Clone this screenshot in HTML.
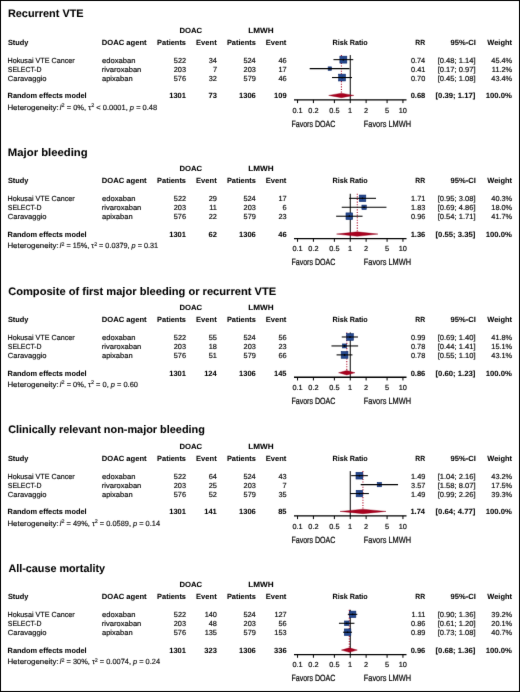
<!DOCTYPE html>
<html><head><meta charset="utf-8"><style>
html,body{margin:0;padding:0;background:#fff;}
body{width:520px;height:692px;overflow:hidden;position:relative;}
svg{position:absolute;left:0;top:0;display:block;font-family:"Liberation Sans", sans-serif;will-change:transform;}
</style></head><body>
<svg width="520" height="692" viewBox="0 0 520 692" text-rendering="geometricPrecision">
<defs><filter id="bl" x="0" y="0" width="520" height="692" filterUnits="userSpaceOnUse" color-interpolation-filters="sRGB"><feConvolveMatrix order="3" kernelMatrix="0.0052 0.0619 0.0052 0.0619 0.7314 0.0619 0.0052 0.0619 0.0052" edgeMode="duplicate" preserveAlpha="true"/></filter></defs><g filter="url(#bl)"><rect width="520" height="692" fill="#fff"/>
<g transform="translate(0,0.00)">
<text x="7.92" y="17.30" font-size="10.9" font-weight="bold" fill="#000" stroke="#000" stroke-width="0.06">Recurrent VTE</text>
<text x="179.48" y="32.50" font-size="7.5" font-weight="bold" textLength="22.73" lengthAdjust="spacingAndGlyphs" fill="#000" stroke="#000" stroke-width="0.06">DOAC</text>
<text x="248.23" y="32.50" font-size="7.5" font-weight="bold" textLength="25.34" lengthAdjust="spacingAndGlyphs" fill="#000" stroke="#000" stroke-width="0.06">LMWH</text>
<text x="7.89" y="44.60" font-size="7.5" font-weight="bold" textLength="20.45" lengthAdjust="spacingAndGlyphs" fill="#000" stroke="#000" stroke-width="0.06">Study</text>
<text x="101.79" y="44.60" font-size="7.5" font-weight="bold" textLength="44.85" lengthAdjust="spacingAndGlyphs" fill="#000" stroke="#000" stroke-width="0.06">DOAC agent</text>
<text x="157.10" y="44.60" font-size="7.5" font-weight="bold" textLength="28.90" lengthAdjust="spacingAndGlyphs" fill="#000" stroke="#000" stroke-width="0.06">Patients</text>
<text x="196.09" y="44.60" font-size="7.5" font-weight="bold" textLength="20.60" lengthAdjust="spacingAndGlyphs" fill="#000" stroke="#000" stroke-width="0.06">Event</text>
<text x="226.90" y="44.60" font-size="7.5" font-weight="bold" textLength="28.90" lengthAdjust="spacingAndGlyphs" fill="#000" stroke="#000" stroke-width="0.06">Patients</text>
<text x="265.79" y="44.60" font-size="7.5" font-weight="bold" textLength="20.60" lengthAdjust="spacingAndGlyphs" fill="#000" stroke="#000" stroke-width="0.06">Event</text>
<text x="332.52" y="44.60" font-size="7.5" font-weight="bold" textLength="35.27" lengthAdjust="spacingAndGlyphs" fill="#000" stroke="#000" stroke-width="0.06">Risk Ratio</text>
<text x="415.29" y="44.60" font-size="7.5" font-weight="bold" textLength="9.85" lengthAdjust="spacingAndGlyphs" fill="#000" stroke="#000" stroke-width="0.06">RR</text>
<text x="450.64" y="44.60" font-size="7.5" font-weight="bold" textLength="25.26" lengthAdjust="spacingAndGlyphs" fill="#000" stroke="#000" stroke-width="0.06">95%-CI</text>
<text x="487.29" y="44.60" font-size="7.5" font-weight="bold" textLength="24.70" lengthAdjust="spacingAndGlyphs" fill="#000" stroke="#000" stroke-width="0.06">Weight</text>
<text x="7.51" y="62.65" font-size="7.35" textLength="67.21" lengthAdjust="spacingAndGlyphs" stroke="#111" stroke-width="0.16">Hokusai VTE Cancer</text>
<text x="101.98" y="62.65" font-size="7.35" textLength="33.52" lengthAdjust="spacingAndGlyphs" stroke="#111" stroke-width="0.16">edoxaban</text>
<text x="173.81" y="62.65" font-size="7.35" stroke="#111" stroke-width="0.16">522</text>
<text x="208.64" y="62.65" font-size="7.35" stroke="#111" stroke-width="0.16">34</text>
<text x="243.45" y="62.65" font-size="7.35" stroke="#111" stroke-width="0.16">524</text>
<text x="278.45" y="62.65" font-size="7.35" stroke="#111" stroke-width="0.16">46</text>
<text x="410.91" y="62.65" font-size="7.35" stroke="#111" stroke-width="0.16">0.74</text>
<text x="437.66" y="62.65" font-size="7.35" textLength="37.87" lengthAdjust="spacingAndGlyphs" stroke="#111" stroke-width="0.16">[0.48; 1.14]</text>
<text x="491.32" y="62.65" font-size="7.35" stroke="#111" stroke-width="0.16">45.4%</text>
<text x="7.79" y="71.60" font-size="7.35" textLength="33.84" lengthAdjust="spacingAndGlyphs" stroke="#111" stroke-width="0.16">SELECT-D</text>
<text x="101.80" y="71.60" font-size="7.35" textLength="39.49" lengthAdjust="spacingAndGlyphs" stroke="#111" stroke-width="0.16">rivaroxaban</text>
<text x="173.76" y="71.60" font-size="7.35" stroke="#111" stroke-width="0.16">203</text>
<text x="212.88" y="71.60" font-size="7.35" stroke="#111" stroke-width="0.16">7</text>
<text x="243.56" y="71.60" font-size="7.35" stroke="#111" stroke-width="0.16">203</text>
<text x="278.49" y="71.60" font-size="7.35" stroke="#111" stroke-width="0.16">17</text>
<text x="411.05" y="71.60" font-size="7.35" stroke="#111" stroke-width="0.16">0.41</text>
<text x="437.66" y="71.60" font-size="7.35" textLength="37.87" lengthAdjust="spacingAndGlyphs" stroke="#111" stroke-width="0.16">[0.17; 0.97]</text>
<text x="491.86" y="71.60" font-size="7.35" stroke="#111" stroke-width="0.16">11.2%</text>
<text x="7.71" y="80.55" font-size="7.35" textLength="38.81" lengthAdjust="spacingAndGlyphs" stroke="#111" stroke-width="0.16">Caravaggio</text>
<text x="101.98" y="80.55" font-size="7.35" textLength="30.61" lengthAdjust="spacingAndGlyphs" stroke="#111" stroke-width="0.16">apixaban</text>
<text x="173.76" y="80.55" font-size="7.35" stroke="#111" stroke-width="0.16">576</text>
<text x="208.79" y="80.55" font-size="7.35" stroke="#111" stroke-width="0.16">32</text>
<text x="243.59" y="80.55" font-size="7.35" stroke="#111" stroke-width="0.16">579</text>
<text x="278.45" y="80.55" font-size="7.35" stroke="#111" stroke-width="0.16">46</text>
<text x="410.98" y="80.55" font-size="7.35" stroke="#111" stroke-width="0.16">0.70</text>
<text x="437.66" y="80.55" font-size="7.35" textLength="37.87" lengthAdjust="spacingAndGlyphs" stroke="#111" stroke-width="0.16">[0.45; 1.08]</text>
<text x="491.32" y="80.55" font-size="7.35" stroke="#111" stroke-width="0.16">43.4%</text>
<text x="7.61" y="98.40" font-size="7.5" font-weight="bold" textLength="78.92" lengthAdjust="spacingAndGlyphs" fill="#000" stroke="#000" stroke-width="0.06">Random effects model</text>
<text x="169.22" y="98.40" font-size="7.5" font-weight="bold" fill="#000" stroke="#000" stroke-width="0.06">1301</text>
<text x="208.53" y="98.40" font-size="7.5" font-weight="bold" fill="#000" stroke="#000" stroke-width="0.06">73</text>
<text x="239.09" y="98.40" font-size="7.5" font-weight="bold" fill="#000" stroke="#000" stroke-width="0.06">1306</text>
<text x="274.07" y="98.40" font-size="7.5" font-weight="bold" fill="#000" stroke="#000" stroke-width="0.06">109</text>
<text x="410.63" y="98.40" font-size="7.5" font-weight="bold" fill="#000" stroke="#000" stroke-width="0.06">0.68</text>
<text x="435.57" y="98.40" font-size="7.5" font-weight="bold" textLength="39.77" lengthAdjust="spacingAndGlyphs" fill="#000" stroke="#000" stroke-width="0.06">[0.39; 1.17]</text>
<text x="485.71" y="98.40" font-size="7.5" font-weight="bold" textLength="26.19" lengthAdjust="spacingAndGlyphs" fill="#000" stroke="#000" stroke-width="0.06">100.0%</text>
<text x="7.45" y="109.80" font-size="7.5" textLength="51.16" lengthAdjust="spacingAndGlyphs" stroke="#111" stroke-width="0.16">Heterogeneity:</text>
<text x="59.51" y="109.80" font-size="7.5" fill="#111" stroke="#111" stroke-width="0.16" textLength="97.72" lengthAdjust="spacingAndGlyphs"><tspan font-style="italic">I</tspan><tspan font-size="5.40" dy="-2.7">2</tspan><tspan dy="2.7"> = 0%, τ</tspan><tspan font-size="5.40" dy="-2.7">2</tspan><tspan dy="2.7"> &lt; 0.0001, </tspan><tspan font-style="italic">p</tspan><tspan> = 0.48</tspan></text>
<line x1="350.25" y1="55.10" x2="350.25" y2="99.90" stroke="#000" stroke-width="1"/>
<line x1="341.42" y1="55.10" x2="341.42" y2="93.15" stroke="#b0102c" stroke-width="1.1" stroke-dasharray="1.1 1.5"/>
<rect x="339.89" y="56.18" width="6.94" height="6.94" fill="#27498f" stroke="#0c2a6c" stroke-width="0.6"/>
<rect x="328.12" y="66.88" width="3.45" height="3.45" fill="#27498f" stroke="#0c2a6c" stroke-width="0.6"/>
<rect x="338.69" y="74.16" width="6.79" height="6.79" fill="#27498f" stroke="#0c2a6c" stroke-width="0.6"/>
<line x1="333.45" y1="59.65" x2="353.25" y2="59.65" stroke="#000" stroke-width="1.05"/>
<circle cx="343.36" cy="59.65" r="0.85" fill="#000"/>
<line x1="309.69" y1="68.60" x2="349.55" y2="68.60" stroke="#000" stroke-width="1.05"/>
<circle cx="329.84" cy="68.60" r="0.85" fill="#000"/>
<line x1="331.97" y1="77.55" x2="352.01" y2="77.55" stroke="#000" stroke-width="1.05"/>
<circle cx="342.09" cy="77.55" r="0.85" fill="#000"/>
<polygon points="328.70,95.40 341.42,93.15 353.84,95.40 341.42,97.65" fill="#a8001e" stroke="#8c0019" stroke-width="0.4"/>
<line x1="294.00" y1="99.90" x2="406.50" y2="99.90" stroke="#000" stroke-width="1.3"/>
<line x1="297.55" y1="99.90" x2="297.55" y2="103.10" stroke="#000" stroke-width="1"/>
<text x="292.47" y="112.70" font-size="7.35" stroke="#111" stroke-width="0.16">0.1</text>
<line x1="313.41" y1="99.90" x2="313.41" y2="103.10" stroke="#000" stroke-width="1"/>
<text x="308.35" y="112.70" font-size="7.35" stroke="#111" stroke-width="0.16">0.2</text>
<line x1="334.39" y1="99.90" x2="334.39" y2="103.10" stroke="#000" stroke-width="1"/>
<text x="329.29" y="112.70" font-size="7.35" stroke="#111" stroke-width="0.16">0.5</text>
<line x1="350.25" y1="99.90" x2="350.25" y2="103.10" stroke="#000" stroke-width="1"/>
<text x="348.10" y="112.70" font-size="7.35" stroke="#111" stroke-width="0.16">1</text>
<line x1="366.11" y1="99.90" x2="366.11" y2="103.10" stroke="#000" stroke-width="1"/>
<text x="364.07" y="112.70" font-size="7.35" stroke="#111" stroke-width="0.16">2</text>
<line x1="387.09" y1="99.90" x2="387.09" y2="103.10" stroke="#000" stroke-width="1"/>
<text x="385.05" y="112.70" font-size="7.35" stroke="#111" stroke-width="0.16">5</text>
<line x1="402.95" y1="99.90" x2="402.95" y2="103.10" stroke="#000" stroke-width="1"/>
<text x="398.73" y="112.70" font-size="7.35" stroke="#111" stroke-width="0.16">10</text>
<text x="291.42" y="126.60" font-size="9.0" textLength="43.95" lengthAdjust="spacingAndGlyphs" stroke="#111" stroke-width="0.22">Favors DOAC</text>
<text x="363.79" y="126.60" font-size="9.0" textLength="47.21" lengthAdjust="spacingAndGlyphs" stroke="#111" stroke-width="0.22">Favors LMWH</text>
</g>
<g transform="translate(0,138.67)">
<text x="7.89" y="17.30" font-size="10.9" font-weight="bold" textLength="79.82" lengthAdjust="spacingAndGlyphs" fill="#000" stroke="#000" stroke-width="0.06">Major bleeding</text>
<text x="179.48" y="32.50" font-size="7.5" font-weight="bold" textLength="22.73" lengthAdjust="spacingAndGlyphs" fill="#000" stroke="#000" stroke-width="0.06">DOAC</text>
<text x="248.23" y="32.50" font-size="7.5" font-weight="bold" textLength="25.34" lengthAdjust="spacingAndGlyphs" fill="#000" stroke="#000" stroke-width="0.06">LMWH</text>
<text x="7.89" y="44.60" font-size="7.5" font-weight="bold" textLength="20.45" lengthAdjust="spacingAndGlyphs" fill="#000" stroke="#000" stroke-width="0.06">Study</text>
<text x="101.79" y="44.60" font-size="7.5" font-weight="bold" textLength="44.85" lengthAdjust="spacingAndGlyphs" fill="#000" stroke="#000" stroke-width="0.06">DOAC agent</text>
<text x="157.10" y="44.60" font-size="7.5" font-weight="bold" textLength="28.90" lengthAdjust="spacingAndGlyphs" fill="#000" stroke="#000" stroke-width="0.06">Patients</text>
<text x="196.09" y="44.60" font-size="7.5" font-weight="bold" textLength="20.60" lengthAdjust="spacingAndGlyphs" fill="#000" stroke="#000" stroke-width="0.06">Event</text>
<text x="226.90" y="44.60" font-size="7.5" font-weight="bold" textLength="28.90" lengthAdjust="spacingAndGlyphs" fill="#000" stroke="#000" stroke-width="0.06">Patients</text>
<text x="265.79" y="44.60" font-size="7.5" font-weight="bold" textLength="20.60" lengthAdjust="spacingAndGlyphs" fill="#000" stroke="#000" stroke-width="0.06">Event</text>
<text x="332.52" y="44.60" font-size="7.5" font-weight="bold" textLength="35.27" lengthAdjust="spacingAndGlyphs" fill="#000" stroke="#000" stroke-width="0.06">Risk Ratio</text>
<text x="415.29" y="44.60" font-size="7.5" font-weight="bold" textLength="9.85" lengthAdjust="spacingAndGlyphs" fill="#000" stroke="#000" stroke-width="0.06">RR</text>
<text x="450.64" y="44.60" font-size="7.5" font-weight="bold" textLength="25.26" lengthAdjust="spacingAndGlyphs" fill="#000" stroke="#000" stroke-width="0.06">95%-CI</text>
<text x="487.29" y="44.60" font-size="7.5" font-weight="bold" textLength="24.70" lengthAdjust="spacingAndGlyphs" fill="#000" stroke="#000" stroke-width="0.06">Weight</text>
<text x="7.51" y="62.65" font-size="7.35" textLength="67.21" lengthAdjust="spacingAndGlyphs" stroke="#111" stroke-width="0.16">Hokusai VTE Cancer</text>
<text x="101.98" y="62.65" font-size="7.35" textLength="33.52" lengthAdjust="spacingAndGlyphs" stroke="#111" stroke-width="0.16">edoxaban</text>
<text x="173.81" y="62.65" font-size="7.35" stroke="#111" stroke-width="0.16">522</text>
<text x="208.77" y="62.65" font-size="7.35" stroke="#111" stroke-width="0.16">29</text>
<text x="243.45" y="62.65" font-size="7.35" stroke="#111" stroke-width="0.16">524</text>
<text x="278.49" y="62.65" font-size="7.35" stroke="#111" stroke-width="0.16">17</text>
<text x="411.05" y="62.65" font-size="7.35" stroke="#111" stroke-width="0.16">1.71</text>
<text x="437.66" y="62.65" font-size="7.35" textLength="37.87" lengthAdjust="spacingAndGlyphs" stroke="#111" stroke-width="0.16">[0.95; 3.08]</text>
<text x="491.32" y="62.65" font-size="7.35" stroke="#111" stroke-width="0.16">40.3%</text>
<text x="7.79" y="71.60" font-size="7.35" textLength="33.84" lengthAdjust="spacingAndGlyphs" stroke="#111" stroke-width="0.16">SELECT-D</text>
<text x="101.80" y="71.60" font-size="7.35" textLength="39.49" lengthAdjust="spacingAndGlyphs" stroke="#111" stroke-width="0.16">rivaroxaban</text>
<text x="173.76" y="71.60" font-size="7.35" stroke="#111" stroke-width="0.16">203</text>
<text x="209.32" y="71.60" font-size="7.35" stroke="#111" stroke-width="0.16">11</text>
<text x="243.56" y="71.60" font-size="7.35" stroke="#111" stroke-width="0.16">203</text>
<text x="282.54" y="71.60" font-size="7.35" stroke="#111" stroke-width="0.16">6</text>
<text x="411.02" y="71.60" font-size="7.35" stroke="#111" stroke-width="0.16">1.83</text>
<text x="437.66" y="71.60" font-size="7.35" textLength="37.87" lengthAdjust="spacingAndGlyphs" stroke="#111" stroke-width="0.16">[0.69; 4.86]</text>
<text x="491.32" y="71.60" font-size="7.35" stroke="#111" stroke-width="0.16">18.0%</text>
<text x="7.71" y="80.55" font-size="7.35" textLength="38.81" lengthAdjust="spacingAndGlyphs" stroke="#111" stroke-width="0.16">Caravaggio</text>
<text x="101.98" y="80.55" font-size="7.35" textLength="30.61" lengthAdjust="spacingAndGlyphs" stroke="#111" stroke-width="0.16">apixaban</text>
<text x="173.76" y="80.55" font-size="7.35" stroke="#111" stroke-width="0.16">576</text>
<text x="208.79" y="80.55" font-size="7.35" stroke="#111" stroke-width="0.16">22</text>
<text x="243.59" y="80.55" font-size="7.35" stroke="#111" stroke-width="0.16">579</text>
<text x="278.45" y="80.55" font-size="7.35" stroke="#111" stroke-width="0.16">23</text>
<text x="411.02" y="80.55" font-size="7.35" stroke="#111" stroke-width="0.16">0.96</text>
<text x="437.66" y="80.55" font-size="7.35" textLength="37.87" lengthAdjust="spacingAndGlyphs" stroke="#111" stroke-width="0.16">[0.54; 1.71]</text>
<text x="491.32" y="80.55" font-size="7.35" stroke="#111" stroke-width="0.16">41.7%</text>
<text x="7.61" y="98.40" font-size="7.5" font-weight="bold" textLength="78.92" lengthAdjust="spacingAndGlyphs" fill="#000" stroke="#000" stroke-width="0.06">Random effects model</text>
<text x="169.22" y="98.40" font-size="7.5" font-weight="bold" fill="#000" stroke="#000" stroke-width="0.06">1301</text>
<text x="208.56" y="98.40" font-size="7.5" font-weight="bold" fill="#000" stroke="#000" stroke-width="0.06">62</text>
<text x="239.09" y="98.40" font-size="7.5" font-weight="bold" fill="#000" stroke="#000" stroke-width="0.06">1306</text>
<text x="278.23" y="98.40" font-size="7.5" font-weight="bold" fill="#000" stroke="#000" stroke-width="0.06">46</text>
<text x="410.67" y="98.40" font-size="7.5" font-weight="bold" fill="#000" stroke="#000" stroke-width="0.06">1.36</text>
<text x="435.57" y="98.40" font-size="7.5" font-weight="bold" textLength="39.77" lengthAdjust="spacingAndGlyphs" fill="#000" stroke="#000" stroke-width="0.06">[0.55; 3.35]</text>
<text x="485.71" y="98.40" font-size="7.5" font-weight="bold" textLength="26.19" lengthAdjust="spacingAndGlyphs" fill="#000" stroke="#000" stroke-width="0.06">100.0%</text>
<text x="7.45" y="109.80" font-size="7.5" textLength="51.16" lengthAdjust="spacingAndGlyphs" stroke="#111" stroke-width="0.16">Heterogeneity:</text>
<text x="59.52" y="109.80" font-size="7.5" fill="#111" stroke="#111" stroke-width="0.16" textLength="98.53" lengthAdjust="spacingAndGlyphs"><tspan font-style="italic">I</tspan><tspan font-size="5.40" dy="-2.7">2</tspan><tspan dy="2.7"> = 15%, τ</tspan><tspan font-size="5.40" dy="-2.7">2</tspan><tspan dy="2.7"> = 0.0379, </tspan><tspan font-style="italic">p</tspan><tspan> = 0.31</tspan></text>
<line x1="350.25" y1="55.10" x2="350.25" y2="99.90" stroke="#000" stroke-width="1"/>
<line x1="357.29" y1="55.10" x2="357.29" y2="93.15" stroke="#b0102c" stroke-width="1.1" stroke-dasharray="1.1 1.5"/>
<rect x="359.26" y="56.38" width="6.54" height="6.54" fill="#27498f" stroke="#0c2a6c" stroke-width="0.6"/>
<rect x="361.90" y="66.42" width="4.37" height="4.37" fill="#27498f" stroke="#0c2a6c" stroke-width="0.6"/>
<rect x="345.99" y="74.22" width="6.65" height="6.65" fill="#27498f" stroke="#0c2a6c" stroke-width="0.6"/>
<line x1="349.08" y1="59.65" x2="376.00" y2="59.65" stroke="#000" stroke-width="1.05"/>
<circle cx="362.53" cy="59.65" r="0.85" fill="#000"/>
<line x1="341.76" y1="68.60" x2="386.44" y2="68.60" stroke="#000" stroke-width="1.05"/>
<circle cx="364.08" cy="68.60" r="0.85" fill="#000"/>
<line x1="336.15" y1="77.55" x2="362.53" y2="77.55" stroke="#000" stroke-width="1.05"/>
<circle cx="349.32" cy="77.55" r="0.85" fill="#000"/>
<polygon points="336.57,95.40 357.29,93.15 377.92,95.40 357.29,97.65" fill="#a8001e" stroke="#8c0019" stroke-width="0.4"/>
<line x1="294.00" y1="99.90" x2="406.50" y2="99.90" stroke="#000" stroke-width="1.3"/>
<line x1="297.55" y1="99.90" x2="297.55" y2="103.10" stroke="#000" stroke-width="1"/>
<text x="292.47" y="112.70" font-size="7.35" stroke="#111" stroke-width="0.16">0.1</text>
<line x1="313.41" y1="99.90" x2="313.41" y2="103.10" stroke="#000" stroke-width="1"/>
<text x="308.35" y="112.70" font-size="7.35" stroke="#111" stroke-width="0.16">0.2</text>
<line x1="334.39" y1="99.90" x2="334.39" y2="103.10" stroke="#000" stroke-width="1"/>
<text x="329.29" y="112.70" font-size="7.35" stroke="#111" stroke-width="0.16">0.5</text>
<line x1="350.25" y1="99.90" x2="350.25" y2="103.10" stroke="#000" stroke-width="1"/>
<text x="348.10" y="112.70" font-size="7.35" stroke="#111" stroke-width="0.16">1</text>
<line x1="366.11" y1="99.90" x2="366.11" y2="103.10" stroke="#000" stroke-width="1"/>
<text x="364.07" y="112.70" font-size="7.35" stroke="#111" stroke-width="0.16">2</text>
<line x1="387.09" y1="99.90" x2="387.09" y2="103.10" stroke="#000" stroke-width="1"/>
<text x="385.05" y="112.70" font-size="7.35" stroke="#111" stroke-width="0.16">5</text>
<line x1="402.95" y1="99.90" x2="402.95" y2="103.10" stroke="#000" stroke-width="1"/>
<text x="398.73" y="112.70" font-size="7.35" stroke="#111" stroke-width="0.16">10</text>
<text x="291.42" y="126.60" font-size="9.0" textLength="43.95" lengthAdjust="spacingAndGlyphs" stroke="#111" stroke-width="0.22">Favors DOAC</text>
<text x="363.79" y="126.60" font-size="9.0" textLength="47.21" lengthAdjust="spacingAndGlyphs" stroke="#111" stroke-width="0.22">Favors LMWH</text>
</g>
<g transform="translate(0,277.34)">
<text x="8.19" y="17.30" font-size="10.9" font-weight="bold" textLength="267.89" lengthAdjust="spacingAndGlyphs" fill="#000" stroke="#000" stroke-width="0.06">Composite of first major bleeding or recurrent VTE</text>
<text x="179.48" y="32.50" font-size="7.5" font-weight="bold" textLength="22.73" lengthAdjust="spacingAndGlyphs" fill="#000" stroke="#000" stroke-width="0.06">DOAC</text>
<text x="248.23" y="32.50" font-size="7.5" font-weight="bold" textLength="25.34" lengthAdjust="spacingAndGlyphs" fill="#000" stroke="#000" stroke-width="0.06">LMWH</text>
<text x="7.89" y="44.60" font-size="7.5" font-weight="bold" textLength="20.45" lengthAdjust="spacingAndGlyphs" fill="#000" stroke="#000" stroke-width="0.06">Study</text>
<text x="101.79" y="44.60" font-size="7.5" font-weight="bold" textLength="44.85" lengthAdjust="spacingAndGlyphs" fill="#000" stroke="#000" stroke-width="0.06">DOAC agent</text>
<text x="157.10" y="44.60" font-size="7.5" font-weight="bold" textLength="28.90" lengthAdjust="spacingAndGlyphs" fill="#000" stroke="#000" stroke-width="0.06">Patients</text>
<text x="196.09" y="44.60" font-size="7.5" font-weight="bold" textLength="20.60" lengthAdjust="spacingAndGlyphs" fill="#000" stroke="#000" stroke-width="0.06">Event</text>
<text x="226.90" y="44.60" font-size="7.5" font-weight="bold" textLength="28.90" lengthAdjust="spacingAndGlyphs" fill="#000" stroke="#000" stroke-width="0.06">Patients</text>
<text x="265.79" y="44.60" font-size="7.5" font-weight="bold" textLength="20.60" lengthAdjust="spacingAndGlyphs" fill="#000" stroke="#000" stroke-width="0.06">Event</text>
<text x="332.52" y="44.60" font-size="7.5" font-weight="bold" textLength="35.27" lengthAdjust="spacingAndGlyphs" fill="#000" stroke="#000" stroke-width="0.06">Risk Ratio</text>
<text x="415.29" y="44.60" font-size="7.5" font-weight="bold" textLength="9.85" lengthAdjust="spacingAndGlyphs" fill="#000" stroke="#000" stroke-width="0.06">RR</text>
<text x="450.64" y="44.60" font-size="7.5" font-weight="bold" textLength="25.26" lengthAdjust="spacingAndGlyphs" fill="#000" stroke="#000" stroke-width="0.06">95%-CI</text>
<text x="487.29" y="44.60" font-size="7.5" font-weight="bold" textLength="24.70" lengthAdjust="spacingAndGlyphs" fill="#000" stroke="#000" stroke-width="0.06">Weight</text>
<text x="7.51" y="62.65" font-size="7.35" textLength="67.21" lengthAdjust="spacingAndGlyphs" stroke="#111" stroke-width="0.16">Hokusai VTE Cancer</text>
<text x="101.98" y="62.65" font-size="7.35" textLength="33.52" lengthAdjust="spacingAndGlyphs" stroke="#111" stroke-width="0.16">edoxaban</text>
<text x="173.81" y="62.65" font-size="7.35" stroke="#111" stroke-width="0.16">522</text>
<text x="208.74" y="62.65" font-size="7.35" stroke="#111" stroke-width="0.16">55</text>
<text x="243.45" y="62.65" font-size="7.35" stroke="#111" stroke-width="0.16">524</text>
<text x="278.45" y="62.65" font-size="7.35" stroke="#111" stroke-width="0.16">56</text>
<text x="411.04" y="62.65" font-size="7.35" stroke="#111" stroke-width="0.16">0.99</text>
<text x="437.66" y="62.65" font-size="7.35" textLength="37.87" lengthAdjust="spacingAndGlyphs" stroke="#111" stroke-width="0.16">[0.69; 1.40]</text>
<text x="491.32" y="62.65" font-size="7.35" stroke="#111" stroke-width="0.16">41.8%</text>
<text x="7.79" y="71.60" font-size="7.35" textLength="33.84" lengthAdjust="spacingAndGlyphs" stroke="#111" stroke-width="0.16">SELECT-D</text>
<text x="101.80" y="71.60" font-size="7.35" textLength="39.49" lengthAdjust="spacingAndGlyphs" stroke="#111" stroke-width="0.16">rivaroxaban</text>
<text x="173.76" y="71.60" font-size="7.35" stroke="#111" stroke-width="0.16">203</text>
<text x="208.74" y="71.60" font-size="7.35" stroke="#111" stroke-width="0.16">18</text>
<text x="243.56" y="71.60" font-size="7.35" stroke="#111" stroke-width="0.16">203</text>
<text x="278.45" y="71.60" font-size="7.35" stroke="#111" stroke-width="0.16">23</text>
<text x="411.01" y="71.60" font-size="7.35" stroke="#111" stroke-width="0.16">0.78</text>
<text x="437.66" y="71.60" font-size="7.35" textLength="37.87" lengthAdjust="spacingAndGlyphs" stroke="#111" stroke-width="0.16">[0.44; 1.41]</text>
<text x="491.32" y="71.60" font-size="7.35" stroke="#111" stroke-width="0.16">15.1%</text>
<text x="7.71" y="80.55" font-size="7.35" textLength="38.81" lengthAdjust="spacingAndGlyphs" stroke="#111" stroke-width="0.16">Caravaggio</text>
<text x="101.98" y="80.55" font-size="7.35" textLength="30.61" lengthAdjust="spacingAndGlyphs" stroke="#111" stroke-width="0.16">apixaban</text>
<text x="173.76" y="80.55" font-size="7.35" stroke="#111" stroke-width="0.16">576</text>
<text x="208.78" y="80.55" font-size="7.35" stroke="#111" stroke-width="0.16">51</text>
<text x="243.59" y="80.55" font-size="7.35" stroke="#111" stroke-width="0.16">579</text>
<text x="278.45" y="80.55" font-size="7.35" stroke="#111" stroke-width="0.16">66</text>
<text x="411.01" y="80.55" font-size="7.35" stroke="#111" stroke-width="0.16">0.78</text>
<text x="437.66" y="80.55" font-size="7.35" textLength="37.87" lengthAdjust="spacingAndGlyphs" stroke="#111" stroke-width="0.16">[0.55; 1.10]</text>
<text x="491.32" y="80.55" font-size="7.35" stroke="#111" stroke-width="0.16">43.1%</text>
<text x="7.61" y="98.40" font-size="7.5" font-weight="bold" textLength="78.92" lengthAdjust="spacingAndGlyphs" fill="#000" stroke="#000" stroke-width="0.06">Random effects model</text>
<text x="169.22" y="98.40" font-size="7.5" font-weight="bold" fill="#000" stroke="#000" stroke-width="0.06">1301</text>
<text x="204.13" y="98.40" font-size="7.5" font-weight="bold" fill="#000" stroke="#000" stroke-width="0.06">124</text>
<text x="239.09" y="98.40" font-size="7.5" font-weight="bold" fill="#000" stroke="#000" stroke-width="0.06">1306</text>
<text x="273.99" y="98.40" font-size="7.5" font-weight="bold" fill="#000" stroke="#000" stroke-width="0.06">145</text>
<text x="410.67" y="98.40" font-size="7.5" font-weight="bold" fill="#000" stroke="#000" stroke-width="0.06">0.86</text>
<text x="435.57" y="98.40" font-size="7.5" font-weight="bold" textLength="39.77" lengthAdjust="spacingAndGlyphs" fill="#000" stroke="#000" stroke-width="0.06">[0.60; 1.23]</text>
<text x="485.71" y="98.40" font-size="7.5" font-weight="bold" textLength="26.19" lengthAdjust="spacingAndGlyphs" fill="#000" stroke="#000" stroke-width="0.06">100.0%</text>
<text x="7.45" y="109.80" font-size="7.5" textLength="51.16" lengthAdjust="spacingAndGlyphs" stroke="#111" stroke-width="0.16">Heterogeneity:</text>
<text x="59.51" y="109.80" font-size="7.5" fill="#111" stroke="#111" stroke-width="0.16" textLength="78.48" lengthAdjust="spacingAndGlyphs"><tspan font-style="italic">I</tspan><tspan font-size="5.40" dy="-2.7">2</tspan><tspan dy="2.7"> = 0%, τ</tspan><tspan font-size="5.40" dy="-2.7">2</tspan><tspan dy="2.7"> = 0, </tspan><tspan font-style="italic">p</tspan><tspan> = 0.60</tspan></text>
<line x1="350.25" y1="55.10" x2="350.25" y2="99.90" stroke="#000" stroke-width="1"/>
<line x1="346.80" y1="55.10" x2="346.80" y2="93.15" stroke="#b0102c" stroke-width="1.1" stroke-dasharray="1.1 1.5"/>
<rect x="346.69" y="56.32" width="6.66" height="6.66" fill="#27498f" stroke="#0c2a6c" stroke-width="0.6"/>
<rect x="342.56" y="66.60" width="4.00" height="4.00" fill="#27498f" stroke="#0c2a6c" stroke-width="0.6"/>
<rect x="341.18" y="74.17" width="6.76" height="6.76" fill="#27498f" stroke="#0c2a6c" stroke-width="0.6"/>
<line x1="341.76" y1="59.65" x2="357.95" y2="59.65" stroke="#000" stroke-width="1.05"/>
<circle cx="350.02" cy="59.65" r="0.85" fill="#000"/>
<line x1="331.46" y1="68.60" x2="358.11" y2="68.60" stroke="#000" stroke-width="1.05"/>
<circle cx="344.56" cy="68.60" r="0.85" fill="#000"/>
<line x1="336.57" y1="77.55" x2="352.43" y2="77.55" stroke="#000" stroke-width="1.05"/>
<circle cx="344.56" cy="77.55" r="0.85" fill="#000"/>
<polygon points="338.56,95.40 346.80,93.15 354.99,95.40 346.80,97.65" fill="#a8001e" stroke="#8c0019" stroke-width="0.4"/>
<line x1="294.00" y1="99.90" x2="406.50" y2="99.90" stroke="#000" stroke-width="1.3"/>
<line x1="297.55" y1="99.90" x2="297.55" y2="103.10" stroke="#000" stroke-width="1"/>
<text x="292.47" y="112.70" font-size="7.35" stroke="#111" stroke-width="0.16">0.1</text>
<line x1="313.41" y1="99.90" x2="313.41" y2="103.10" stroke="#000" stroke-width="1"/>
<text x="308.35" y="112.70" font-size="7.35" stroke="#111" stroke-width="0.16">0.2</text>
<line x1="334.39" y1="99.90" x2="334.39" y2="103.10" stroke="#000" stroke-width="1"/>
<text x="329.29" y="112.70" font-size="7.35" stroke="#111" stroke-width="0.16">0.5</text>
<line x1="350.25" y1="99.90" x2="350.25" y2="103.10" stroke="#000" stroke-width="1"/>
<text x="348.10" y="112.70" font-size="7.35" stroke="#111" stroke-width="0.16">1</text>
<line x1="366.11" y1="99.90" x2="366.11" y2="103.10" stroke="#000" stroke-width="1"/>
<text x="364.07" y="112.70" font-size="7.35" stroke="#111" stroke-width="0.16">2</text>
<line x1="387.09" y1="99.90" x2="387.09" y2="103.10" stroke="#000" stroke-width="1"/>
<text x="385.05" y="112.70" font-size="7.35" stroke="#111" stroke-width="0.16">5</text>
<line x1="402.95" y1="99.90" x2="402.95" y2="103.10" stroke="#000" stroke-width="1"/>
<text x="398.73" y="112.70" font-size="7.35" stroke="#111" stroke-width="0.16">10</text>
<text x="291.42" y="126.60" font-size="9.0" textLength="43.95" lengthAdjust="spacingAndGlyphs" stroke="#111" stroke-width="0.22">Favors DOAC</text>
<text x="363.79" y="126.60" font-size="9.0" textLength="47.21" lengthAdjust="spacingAndGlyphs" stroke="#111" stroke-width="0.22">Favors LMWH</text>
</g>
<g transform="translate(0,416.01)">
<text x="8.20" y="17.30" font-size="10.9" font-weight="bold" fill="#000" stroke="#000" stroke-width="0.06">Clinically relevant non-major bleeding</text>
<text x="179.48" y="32.50" font-size="7.5" font-weight="bold" textLength="22.73" lengthAdjust="spacingAndGlyphs" fill="#000" stroke="#000" stroke-width="0.06">DOAC</text>
<text x="248.23" y="32.50" font-size="7.5" font-weight="bold" textLength="25.34" lengthAdjust="spacingAndGlyphs" fill="#000" stroke="#000" stroke-width="0.06">LMWH</text>
<text x="7.89" y="44.60" font-size="7.5" font-weight="bold" textLength="20.45" lengthAdjust="spacingAndGlyphs" fill="#000" stroke="#000" stroke-width="0.06">Study</text>
<text x="101.79" y="44.60" font-size="7.5" font-weight="bold" textLength="44.85" lengthAdjust="spacingAndGlyphs" fill="#000" stroke="#000" stroke-width="0.06">DOAC agent</text>
<text x="157.10" y="44.60" font-size="7.5" font-weight="bold" textLength="28.90" lengthAdjust="spacingAndGlyphs" fill="#000" stroke="#000" stroke-width="0.06">Patients</text>
<text x="196.09" y="44.60" font-size="7.5" font-weight="bold" textLength="20.60" lengthAdjust="spacingAndGlyphs" fill="#000" stroke="#000" stroke-width="0.06">Event</text>
<text x="226.90" y="44.60" font-size="7.5" font-weight="bold" textLength="28.90" lengthAdjust="spacingAndGlyphs" fill="#000" stroke="#000" stroke-width="0.06">Patients</text>
<text x="265.79" y="44.60" font-size="7.5" font-weight="bold" textLength="20.60" lengthAdjust="spacingAndGlyphs" fill="#000" stroke="#000" stroke-width="0.06">Event</text>
<text x="332.52" y="44.60" font-size="7.5" font-weight="bold" textLength="35.27" lengthAdjust="spacingAndGlyphs" fill="#000" stroke="#000" stroke-width="0.06">Risk Ratio</text>
<text x="415.29" y="44.60" font-size="7.5" font-weight="bold" textLength="9.85" lengthAdjust="spacingAndGlyphs" fill="#000" stroke="#000" stroke-width="0.06">RR</text>
<text x="450.64" y="44.60" font-size="7.5" font-weight="bold" textLength="25.26" lengthAdjust="spacingAndGlyphs" fill="#000" stroke="#000" stroke-width="0.06">95%-CI</text>
<text x="487.29" y="44.60" font-size="7.5" font-weight="bold" textLength="24.70" lengthAdjust="spacingAndGlyphs" fill="#000" stroke="#000" stroke-width="0.06">Weight</text>
<text x="7.51" y="62.65" font-size="7.35" textLength="67.21" lengthAdjust="spacingAndGlyphs" stroke="#111" stroke-width="0.16">Hokusai VTE Cancer</text>
<text x="101.98" y="62.65" font-size="7.35" textLength="33.52" lengthAdjust="spacingAndGlyphs" stroke="#111" stroke-width="0.16">edoxaban</text>
<text x="173.81" y="62.65" font-size="7.35" stroke="#111" stroke-width="0.16">522</text>
<text x="208.64" y="62.65" font-size="7.35" stroke="#111" stroke-width="0.16">64</text>
<text x="243.45" y="62.65" font-size="7.35" stroke="#111" stroke-width="0.16">524</text>
<text x="278.45" y="62.65" font-size="7.35" stroke="#111" stroke-width="0.16">43</text>
<text x="411.04" y="62.65" font-size="7.35" stroke="#111" stroke-width="0.16">1.49</text>
<text x="437.66" y="62.65" font-size="7.35" textLength="37.87" lengthAdjust="spacingAndGlyphs" stroke="#111" stroke-width="0.16">[1.04; 2.16]</text>
<text x="491.32" y="62.65" font-size="7.35" stroke="#111" stroke-width="0.16">43.2%</text>
<text x="7.79" y="71.60" font-size="7.35" textLength="33.84" lengthAdjust="spacingAndGlyphs" stroke="#111" stroke-width="0.16">SELECT-D</text>
<text x="101.80" y="71.60" font-size="7.35" textLength="39.49" lengthAdjust="spacingAndGlyphs" stroke="#111" stroke-width="0.16">rivaroxaban</text>
<text x="173.76" y="71.60" font-size="7.35" stroke="#111" stroke-width="0.16">203</text>
<text x="208.74" y="71.60" font-size="7.35" stroke="#111" stroke-width="0.16">25</text>
<text x="243.56" y="71.60" font-size="7.35" stroke="#111" stroke-width="0.16">203</text>
<text x="282.58" y="71.60" font-size="7.35" stroke="#111" stroke-width="0.16">7</text>
<text x="411.06" y="71.60" font-size="7.35" stroke="#111" stroke-width="0.16">3.57</text>
<text x="437.66" y="71.60" font-size="7.35" textLength="37.87" lengthAdjust="spacingAndGlyphs" stroke="#111" stroke-width="0.16">[1.58; 8.07]</text>
<text x="491.32" y="71.60" font-size="7.35" stroke="#111" stroke-width="0.16">17.5%</text>
<text x="7.71" y="80.55" font-size="7.35" textLength="38.81" lengthAdjust="spacingAndGlyphs" stroke="#111" stroke-width="0.16">Caravaggio</text>
<text x="101.98" y="80.55" font-size="7.35" textLength="30.61" lengthAdjust="spacingAndGlyphs" stroke="#111" stroke-width="0.16">apixaban</text>
<text x="173.76" y="80.55" font-size="7.35" stroke="#111" stroke-width="0.16">576</text>
<text x="208.79" y="80.55" font-size="7.35" stroke="#111" stroke-width="0.16">52</text>
<text x="243.59" y="80.55" font-size="7.35" stroke="#111" stroke-width="0.16">579</text>
<text x="278.44" y="80.55" font-size="7.35" stroke="#111" stroke-width="0.16">35</text>
<text x="411.04" y="80.55" font-size="7.35" stroke="#111" stroke-width="0.16">1.49</text>
<text x="437.66" y="80.55" font-size="7.35" textLength="37.87" lengthAdjust="spacingAndGlyphs" stroke="#111" stroke-width="0.16">[0.99; 2.26]</text>
<text x="491.32" y="80.55" font-size="7.35" stroke="#111" stroke-width="0.16">39.3%</text>
<text x="7.61" y="98.40" font-size="7.5" font-weight="bold" textLength="78.92" lengthAdjust="spacingAndGlyphs" fill="#000" stroke="#000" stroke-width="0.06">Random effects model</text>
<text x="169.22" y="98.40" font-size="7.5" font-weight="bold" fill="#000" stroke="#000" stroke-width="0.06">1301</text>
<text x="204.29" y="98.40" font-size="7.5" font-weight="bold" fill="#000" stroke="#000" stroke-width="0.06">141</text>
<text x="239.09" y="98.40" font-size="7.5" font-weight="bold" fill="#000" stroke="#000" stroke-width="0.06">1306</text>
<text x="278.16" y="98.40" font-size="7.5" font-weight="bold" fill="#000" stroke="#000" stroke-width="0.06">85</text>
<text x="410.44" y="98.40" font-size="7.5" font-weight="bold" fill="#000" stroke="#000" stroke-width="0.06">1.74</text>
<text x="435.57" y="98.40" font-size="7.5" font-weight="bold" textLength="39.77" lengthAdjust="spacingAndGlyphs" fill="#000" stroke="#000" stroke-width="0.06">[0.64; 4.77]</text>
<text x="485.71" y="98.40" font-size="7.5" font-weight="bold" textLength="26.19" lengthAdjust="spacingAndGlyphs" fill="#000" stroke="#000" stroke-width="0.06">100.0%</text>
<text x="7.45" y="109.80" font-size="7.5" textLength="51.16" lengthAdjust="spacingAndGlyphs" stroke="#111" stroke-width="0.16">Heterogeneity:</text>
<text x="59.51" y="109.80" font-size="7.5" fill="#111" stroke="#111" stroke-width="0.16" textLength="100.50" lengthAdjust="spacingAndGlyphs"><tspan font-style="italic">I</tspan><tspan font-size="5.40" dy="-2.7">2</tspan><tspan dy="2.7"> = 49%, τ</tspan><tspan font-size="5.40" dy="-2.7">2</tspan><tspan dy="2.7"> = 0.0589, </tspan><tspan font-style="italic">p</tspan><tspan> = 0.14</tspan></text>
<line x1="350.25" y1="55.10" x2="350.25" y2="99.90" stroke="#000" stroke-width="1"/>
<line x1="362.93" y1="55.10" x2="362.93" y2="93.15" stroke="#b0102c" stroke-width="1.1" stroke-dasharray="1.1 1.5"/>
<rect x="355.99" y="56.27" width="6.77" height="6.77" fill="#27498f" stroke="#0c2a6c" stroke-width="0.6"/>
<rect x="377.22" y="66.45" width="4.31" height="4.31" fill="#27498f" stroke="#0c2a6c" stroke-width="0.6"/>
<rect x="356.15" y="74.32" width="6.46" height="6.46" fill="#27498f" stroke="#0c2a6c" stroke-width="0.6"/>
<line x1="351.15" y1="59.65" x2="367.88" y2="59.65" stroke="#000" stroke-width="1.05"/>
<circle cx="359.38" cy="59.65" r="0.85" fill="#000"/>
<line x1="360.72" y1="68.60" x2="398.04" y2="68.60" stroke="#000" stroke-width="1.05"/>
<circle cx="379.38" cy="68.60" r="0.85" fill="#000"/>
<line x1="350.02" y1="77.55" x2="368.91" y2="77.55" stroke="#000" stroke-width="1.05"/>
<circle cx="359.38" cy="77.55" r="0.85" fill="#000"/>
<polygon points="340.04,95.40 362.93,93.15 386.01,95.40 362.93,97.65" fill="#a8001e" stroke="#8c0019" stroke-width="0.4"/>
<line x1="294.00" y1="99.90" x2="406.50" y2="99.90" stroke="#000" stroke-width="1.3"/>
<line x1="297.55" y1="99.90" x2="297.55" y2="103.10" stroke="#000" stroke-width="1"/>
<text x="292.47" y="112.70" font-size="7.35" stroke="#111" stroke-width="0.16">0.1</text>
<line x1="313.41" y1="99.90" x2="313.41" y2="103.10" stroke="#000" stroke-width="1"/>
<text x="308.35" y="112.70" font-size="7.35" stroke="#111" stroke-width="0.16">0.2</text>
<line x1="334.39" y1="99.90" x2="334.39" y2="103.10" stroke="#000" stroke-width="1"/>
<text x="329.29" y="112.70" font-size="7.35" stroke="#111" stroke-width="0.16">0.5</text>
<line x1="350.25" y1="99.90" x2="350.25" y2="103.10" stroke="#000" stroke-width="1"/>
<text x="348.10" y="112.70" font-size="7.35" stroke="#111" stroke-width="0.16">1</text>
<line x1="366.11" y1="99.90" x2="366.11" y2="103.10" stroke="#000" stroke-width="1"/>
<text x="364.07" y="112.70" font-size="7.35" stroke="#111" stroke-width="0.16">2</text>
<line x1="387.09" y1="99.90" x2="387.09" y2="103.10" stroke="#000" stroke-width="1"/>
<text x="385.05" y="112.70" font-size="7.35" stroke="#111" stroke-width="0.16">5</text>
<line x1="402.95" y1="99.90" x2="402.95" y2="103.10" stroke="#000" stroke-width="1"/>
<text x="398.73" y="112.70" font-size="7.35" stroke="#111" stroke-width="0.16">10</text>
<text x="291.42" y="126.60" font-size="9.0" textLength="43.95" lengthAdjust="spacingAndGlyphs" stroke="#111" stroke-width="0.22">Favors DOAC</text>
<text x="363.79" y="126.60" font-size="9.0" textLength="47.21" lengthAdjust="spacingAndGlyphs" stroke="#111" stroke-width="0.22">Favors LMWH</text>
</g>
<g transform="translate(0,554.68)">
<text x="8.38" y="17.30" font-size="10.9" font-weight="bold" textLength="96.63" lengthAdjust="spacingAndGlyphs" fill="#000" stroke="#000" stroke-width="0.06">All-cause mortality</text>
<text x="179.48" y="32.50" font-size="7.5" font-weight="bold" textLength="22.73" lengthAdjust="spacingAndGlyphs" fill="#000" stroke="#000" stroke-width="0.06">DOAC</text>
<text x="248.23" y="32.50" font-size="7.5" font-weight="bold" textLength="25.34" lengthAdjust="spacingAndGlyphs" fill="#000" stroke="#000" stroke-width="0.06">LMWH</text>
<text x="7.89" y="44.60" font-size="7.5" font-weight="bold" textLength="20.45" lengthAdjust="spacingAndGlyphs" fill="#000" stroke="#000" stroke-width="0.06">Study</text>
<text x="101.79" y="44.60" font-size="7.5" font-weight="bold" textLength="44.85" lengthAdjust="spacingAndGlyphs" fill="#000" stroke="#000" stroke-width="0.06">DOAC agent</text>
<text x="157.10" y="44.60" font-size="7.5" font-weight="bold" textLength="28.90" lengthAdjust="spacingAndGlyphs" fill="#000" stroke="#000" stroke-width="0.06">Patients</text>
<text x="196.09" y="44.60" font-size="7.5" font-weight="bold" textLength="20.60" lengthAdjust="spacingAndGlyphs" fill="#000" stroke="#000" stroke-width="0.06">Event</text>
<text x="226.90" y="44.60" font-size="7.5" font-weight="bold" textLength="28.90" lengthAdjust="spacingAndGlyphs" fill="#000" stroke="#000" stroke-width="0.06">Patients</text>
<text x="265.79" y="44.60" font-size="7.5" font-weight="bold" textLength="20.60" lengthAdjust="spacingAndGlyphs" fill="#000" stroke="#000" stroke-width="0.06">Event</text>
<text x="332.52" y="44.60" font-size="7.5" font-weight="bold" textLength="35.27" lengthAdjust="spacingAndGlyphs" fill="#000" stroke="#000" stroke-width="0.06">Risk Ratio</text>
<text x="415.29" y="44.60" font-size="7.5" font-weight="bold" textLength="9.85" lengthAdjust="spacingAndGlyphs" fill="#000" stroke="#000" stroke-width="0.06">RR</text>
<text x="450.64" y="44.60" font-size="7.5" font-weight="bold" textLength="25.26" lengthAdjust="spacingAndGlyphs" fill="#000" stroke="#000" stroke-width="0.06">95%-CI</text>
<text x="487.29" y="44.60" font-size="7.5" font-weight="bold" textLength="24.70" lengthAdjust="spacingAndGlyphs" fill="#000" stroke="#000" stroke-width="0.06">Weight</text>
<text x="7.51" y="62.65" font-size="7.35" textLength="67.21" lengthAdjust="spacingAndGlyphs" stroke="#111" stroke-width="0.16">Hokusai VTE Cancer</text>
<text x="101.98" y="62.65" font-size="7.35" textLength="33.52" lengthAdjust="spacingAndGlyphs" stroke="#111" stroke-width="0.16">edoxaban</text>
<text x="173.81" y="62.65" font-size="7.35" stroke="#111" stroke-width="0.16">522</text>
<text x="204.63" y="62.65" font-size="7.35" stroke="#111" stroke-width="0.16">140</text>
<text x="243.45" y="62.65" font-size="7.35" stroke="#111" stroke-width="0.16">524</text>
<text x="274.41" y="62.65" font-size="7.35" stroke="#111" stroke-width="0.16">127</text>
<text x="411.59" y="62.65" font-size="7.35" stroke="#111" stroke-width="0.16">1.11</text>
<text x="437.66" y="62.65" font-size="7.35" textLength="37.87" lengthAdjust="spacingAndGlyphs" stroke="#111" stroke-width="0.16">[0.90; 1.36]</text>
<text x="491.32" y="62.65" font-size="7.35" stroke="#111" stroke-width="0.16">39.2%</text>
<text x="7.79" y="71.60" font-size="7.35" textLength="33.84" lengthAdjust="spacingAndGlyphs" stroke="#111" stroke-width="0.16">SELECT-D</text>
<text x="101.80" y="71.60" font-size="7.35" textLength="39.49" lengthAdjust="spacingAndGlyphs" stroke="#111" stroke-width="0.16">rivaroxaban</text>
<text x="173.76" y="71.60" font-size="7.35" stroke="#111" stroke-width="0.16">203</text>
<text x="208.74" y="71.60" font-size="7.35" stroke="#111" stroke-width="0.16">48</text>
<text x="243.56" y="71.60" font-size="7.35" stroke="#111" stroke-width="0.16">203</text>
<text x="278.45" y="71.60" font-size="7.35" stroke="#111" stroke-width="0.16">56</text>
<text x="411.02" y="71.60" font-size="7.35" stroke="#111" stroke-width="0.16">0.86</text>
<text x="437.66" y="71.60" font-size="7.35" textLength="37.87" lengthAdjust="spacingAndGlyphs" stroke="#111" stroke-width="0.16">[0.61; 1.20]</text>
<text x="491.32" y="71.60" font-size="7.35" stroke="#111" stroke-width="0.16">20.1%</text>
<text x="7.71" y="80.55" font-size="7.35" textLength="38.81" lengthAdjust="spacingAndGlyphs" stroke="#111" stroke-width="0.16">Caravaggio</text>
<text x="101.98" y="80.55" font-size="7.35" textLength="30.61" lengthAdjust="spacingAndGlyphs" stroke="#111" stroke-width="0.16">apixaban</text>
<text x="173.76" y="80.55" font-size="7.35" stroke="#111" stroke-width="0.16">576</text>
<text x="204.65" y="80.55" font-size="7.35" stroke="#111" stroke-width="0.16">135</text>
<text x="243.59" y="80.55" font-size="7.35" stroke="#111" stroke-width="0.16">579</text>
<text x="274.36" y="80.55" font-size="7.35" stroke="#111" stroke-width="0.16">153</text>
<text x="411.04" y="80.55" font-size="7.35" stroke="#111" stroke-width="0.16">0.89</text>
<text x="437.66" y="80.55" font-size="7.35" textLength="37.87" lengthAdjust="spacingAndGlyphs" stroke="#111" stroke-width="0.16">[0.73; 1.08]</text>
<text x="491.32" y="80.55" font-size="7.35" stroke="#111" stroke-width="0.16">40.7%</text>
<text x="7.61" y="98.40" font-size="7.5" font-weight="bold" textLength="78.92" lengthAdjust="spacingAndGlyphs" fill="#000" stroke="#000" stroke-width="0.06">Random effects model</text>
<text x="169.22" y="98.40" font-size="7.5" font-weight="bold" fill="#000" stroke="#000" stroke-width="0.06">1301</text>
<text x="204.36" y="98.40" font-size="7.5" font-weight="bold" fill="#000" stroke="#000" stroke-width="0.06">323</text>
<text x="239.09" y="98.40" font-size="7.5" font-weight="bold" fill="#000" stroke="#000" stroke-width="0.06">1306</text>
<text x="274.06" y="98.40" font-size="7.5" font-weight="bold" fill="#000" stroke="#000" stroke-width="0.06">336</text>
<text x="410.67" y="98.40" font-size="7.5" font-weight="bold" fill="#000" stroke="#000" stroke-width="0.06">0.96</text>
<text x="435.57" y="98.40" font-size="7.5" font-weight="bold" textLength="39.77" lengthAdjust="spacingAndGlyphs" fill="#000" stroke="#000" stroke-width="0.06">[0.68; 1.36]</text>
<text x="485.71" y="98.40" font-size="7.5" font-weight="bold" textLength="26.19" lengthAdjust="spacingAndGlyphs" fill="#000" stroke="#000" stroke-width="0.06">100.0%</text>
<text x="7.45" y="109.80" font-size="7.5" textLength="51.16" lengthAdjust="spacingAndGlyphs" stroke="#111" stroke-width="0.16">Heterogeneity:</text>
<text x="59.51" y="109.80" font-size="7.5" fill="#111" stroke="#111" stroke-width="0.16" textLength="100.50" lengthAdjust="spacingAndGlyphs"><tspan font-style="italic">I</tspan><tspan font-size="5.40" dy="-2.7">2</tspan><tspan dy="2.7"> = 30%, τ</tspan><tspan font-size="5.40" dy="-2.7">2</tspan><tspan dy="2.7"> = 0.0074, </tspan><tspan font-style="italic">p</tspan><tspan> = 0.24</tspan></text>
<line x1="350.25" y1="55.10" x2="350.25" y2="99.90" stroke="#000" stroke-width="1"/>
<line x1="349.32" y1="55.10" x2="349.32" y2="93.15" stroke="#b0102c" stroke-width="1.1" stroke-dasharray="1.1 1.5"/>
<rect x="349.41" y="56.43" width="6.45" height="6.45" fill="#27498f" stroke="#0c2a6c" stroke-width="0.6"/>
<rect x="344.49" y="66.29" width="4.62" height="4.62" fill="#27498f" stroke="#0c2a6c" stroke-width="0.6"/>
<rect x="344.30" y="74.26" width="6.57" height="6.57" fill="#27498f" stroke="#0c2a6c" stroke-width="0.6"/>
<line x1="347.84" y1="59.65" x2="357.29" y2="59.65" stroke="#000" stroke-width="1.05"/>
<circle cx="352.64" cy="59.65" r="0.85" fill="#000"/>
<line x1="338.94" y1="68.60" x2="354.42" y2="68.60" stroke="#000" stroke-width="1.05"/>
<circle cx="346.80" cy="68.60" r="0.85" fill="#000"/>
<line x1="343.05" y1="77.55" x2="352.01" y2="77.55" stroke="#000" stroke-width="1.05"/>
<circle cx="347.58" cy="77.55" r="0.85" fill="#000"/>
<polygon points="341.42,95.40 349.32,93.15 357.29,95.40 349.32,97.65" fill="#a8001e" stroke="#8c0019" stroke-width="0.4"/>
<line x1="294.00" y1="99.90" x2="406.50" y2="99.90" stroke="#000" stroke-width="1.3"/>
<line x1="297.55" y1="99.90" x2="297.55" y2="103.10" stroke="#000" stroke-width="1"/>
<text x="292.47" y="112.70" font-size="7.35" stroke="#111" stroke-width="0.16">0.1</text>
<line x1="313.41" y1="99.90" x2="313.41" y2="103.10" stroke="#000" stroke-width="1"/>
<text x="308.35" y="112.70" font-size="7.35" stroke="#111" stroke-width="0.16">0.2</text>
<line x1="334.39" y1="99.90" x2="334.39" y2="103.10" stroke="#000" stroke-width="1"/>
<text x="329.29" y="112.70" font-size="7.35" stroke="#111" stroke-width="0.16">0.5</text>
<line x1="350.25" y1="99.90" x2="350.25" y2="103.10" stroke="#000" stroke-width="1"/>
<text x="348.10" y="112.70" font-size="7.35" stroke="#111" stroke-width="0.16">1</text>
<line x1="366.11" y1="99.90" x2="366.11" y2="103.10" stroke="#000" stroke-width="1"/>
<text x="364.07" y="112.70" font-size="7.35" stroke="#111" stroke-width="0.16">2</text>
<line x1="387.09" y1="99.90" x2="387.09" y2="103.10" stroke="#000" stroke-width="1"/>
<text x="385.05" y="112.70" font-size="7.35" stroke="#111" stroke-width="0.16">5</text>
<line x1="402.95" y1="99.90" x2="402.95" y2="103.10" stroke="#000" stroke-width="1"/>
<text x="398.73" y="112.70" font-size="7.35" stroke="#111" stroke-width="0.16">10</text>
<text x="291.42" y="126.60" font-size="9.0" textLength="43.95" lengthAdjust="spacingAndGlyphs" stroke="#111" stroke-width="0.22">Favors DOAC</text>
<text x="363.79" y="126.60" font-size="9.0" textLength="47.21" lengthAdjust="spacingAndGlyphs" stroke="#111" stroke-width="0.22">Favors LMWH</text>
</g>
<rect x="0.5" y="0.5" width="519" height="691" fill="none" stroke="#000" stroke-width="1"/>
</g>
</svg>
</body></html>
